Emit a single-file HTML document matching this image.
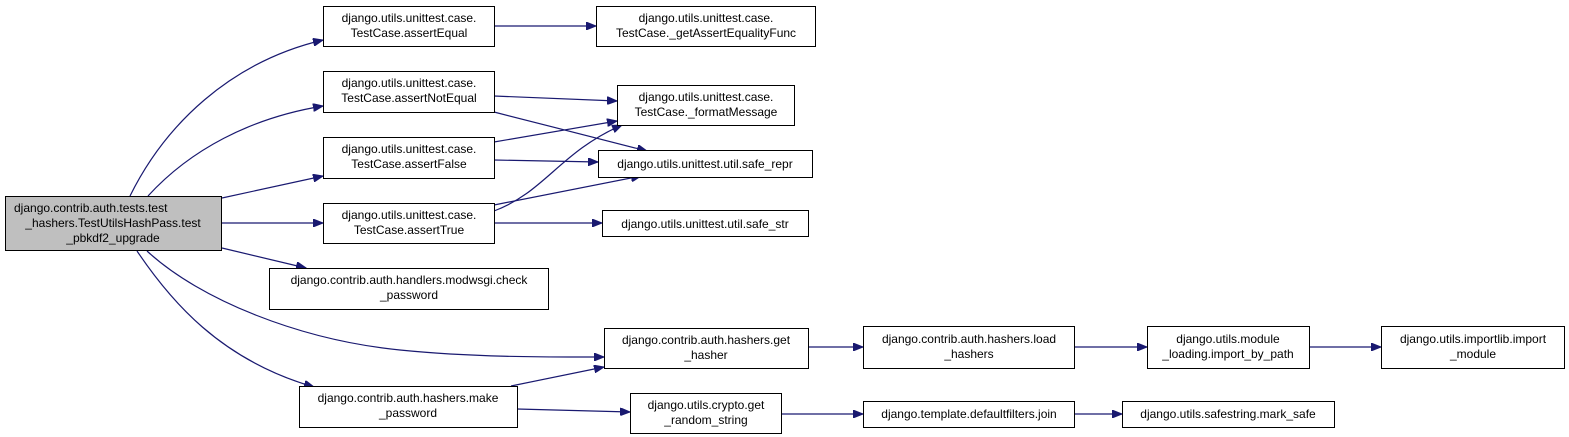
<!DOCTYPE html>
<html><head><meta charset="utf-8"><style>
html,body{margin:0;padding:0;background:#fff;}
svg{display:block;}
text{font-family:"Liberation Sans",Arial,sans-serif;font-size:12px;fill:#000;}
</style></head><body>
<svg width="1569" height="437" viewBox="0 0 1569 437" xmlns="http://www.w3.org/2000/svg">
<defs>
<marker id="a" markerWidth="11" markerHeight="8" refX="10" refY="4" orient="auto" markerUnits="userSpaceOnUse">
<path d="M0,0 L10,4 L0,8 Z" fill="#191970" stroke="#191970"/>
</marker>
</defs>
<g fill="none" stroke="#191970" stroke-width="1.2" marker-end="url(#a)">
<path d="M130,196 C165,125 230,62 323,40"/>
<path d="M148,196 C190,150 250,118 323,106"/>
<path d="M222,198 L323,176"/>
<path d="M222,223 L323,223"/>
<path d="M222,248 L306,268"/>
<path d="M147,251 C200,300 300,340 400,350 C480,358 560,357 604,357"/>
<path d="M137,251 C170,300 220,360 314,387"/>
<path d="M494,26 L596,26"/>
<path d="M494,96 L617,101"/>
<path d="M494,112 L647,151"/>
<path d="M494,142 L617,121"/>
<path d="M494,160 L598,162"/>
<path d="M494,211 C545,192 560,152 622,125"/>
<path d="M494,205 L641,176"/>
<path d="M494,223 L602,223"/>
<path d="M511,386 L604,367"/>
<path d="M517,409 L630,412"/>
<path d="M808,347 L863,347"/>
<path d="M1074,347 L1147,347"/>
<path d="M1309,347 L1381,347"/>
<path d="M781,414 L863,414"/>
<path d="M1074,414 L1122,414"/>
</g>
<g stroke="#000" stroke-width="1">
<rect x="5.5" y="196.5" width="216" height="54" fill="#bfbfbf"/>
<rect x="323.5" y="6.5" width="171" height="40" fill="#fff"/>
<rect x="596.5" y="6.5" width="219" height="40" fill="#fff"/>
<rect x="323.5" y="71.5" width="171" height="41" fill="#fff"/>
<rect x="617.5" y="85.5" width="177" height="40" fill="#fff"/>
<rect x="323.5" y="137.5" width="171" height="41" fill="#fff"/>
<rect x="598.5" y="150.5" width="214" height="27" fill="#fff"/>
<rect x="323.5" y="203.5" width="171" height="40" fill="#fff"/>
<rect x="602.5" y="210.5" width="206" height="26" fill="#fff"/>
<rect x="269.5" y="268.5" width="279" height="41" fill="#fff"/>
<rect x="604.5" y="328.5" width="204" height="40" fill="#fff"/>
<rect x="299.5" y="386.5" width="218" height="41" fill="#fff"/>
<rect x="630.5" y="393.5" width="151" height="40" fill="#fff"/>
<rect x="863.5" y="326.5" width="211" height="42" fill="#fff"/>
<rect x="1147.5" y="326.5" width="162" height="42" fill="#fff"/>
<rect x="1381.5" y="326.5" width="183" height="42" fill="#fff"/>
<rect x="863.5" y="401.5" width="211" height="26" fill="#fff"/>
<rect x="1122.5" y="401.5" width="212" height="26" fill="#fff"/>
</g>
<g text-anchor="middle">
<text x="113" y="212" text-anchor="start" x0="14"><tspan x="14">django.contrib.auth.tests.test</tspan></text>
<text x="113" y="227">_hashers.TestUtilsHashPass.test</text>
<text x="113" y="242">_pbkdf2_upgrade</text>
<text x="409" y="22">django.utils.unittest.case.</text>
<text x="409" y="37">TestCase.assertEqual</text>
<text x="706" y="22">django.utils.unittest.case.</text>
<text x="706" y="37">TestCase._getAssertEqualityFunc</text>
<text x="409" y="87">django.utils.unittest.case.</text>
<text x="409" y="102">TestCase.assertNotEqual</text>
<text x="706" y="101">django.utils.unittest.case.</text>
<text x="706" y="116">TestCase._formatMessage</text>
<text x="409" y="153">django.utils.unittest.case.</text>
<text x="409" y="168">TestCase.assertFalse</text>
<text x="705" y="168">django.utils.unittest.util.safe_repr</text>
<text x="409" y="219">django.utils.unittest.case.</text>
<text x="409" y="234">TestCase.assertTrue</text>
<text x="705" y="228">django.utils.unittest.util.safe_str</text>
<text x="409" y="284">django.contrib.auth.handlers.modwsgi.check</text>
<text x="409" y="299">_password</text>
<text x="706" y="344">django.contrib.auth.hashers.get</text>
<text x="706" y="359">_hasher</text>
<text x="408" y="402">django.contrib.auth.hashers.make</text>
<text x="408" y="417">_password</text>
<text x="706" y="409">django.utils.crypto.get</text>
<text x="706" y="424">_random_string</text>
<text x="969" y="343">django.contrib.auth.hashers.load</text>
<text x="969" y="358">_hashers</text>
<text x="1228" y="343">django.utils.module</text>
<text x="1228" y="358">_loading.import_by_path</text>
<text x="1473" y="343">django.utils.importlib.import</text>
<text x="1473" y="358">_module</text>
<text x="969" y="418">django.template.defaultfilters.join</text>
<text x="1228" y="418">django.utils.safestring.mark_safe</text>
</g>
</svg>
</body></html>
